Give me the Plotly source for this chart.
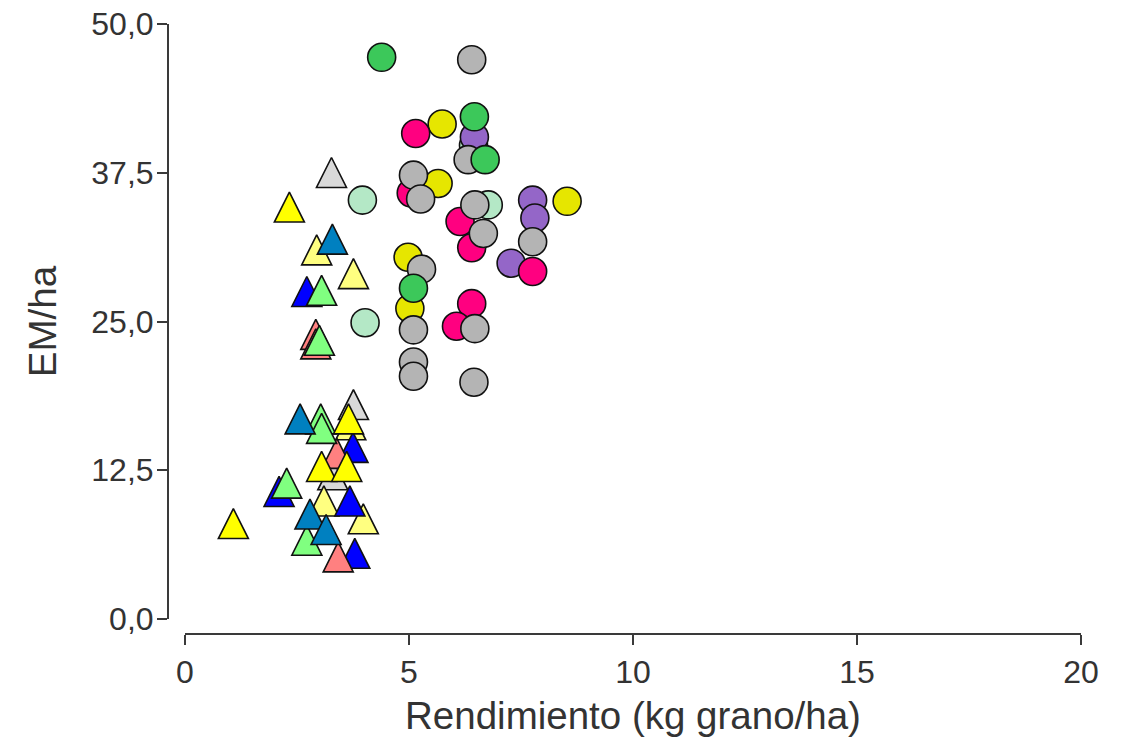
import plotly.graph_objects as go

# ---------------- data ----------------
# Triangles (group A) by colour
tri_yellow_x = [2.33, 3.65, 3.05, 3.61, 1.08]
tri_yellow_y = [34.2, 16.4, 12.4, 12.4, 7.6]
tri_lyellow_x = [2.94, 3.76, 3.70, 3.10, 3.98]
tri_lyellow_y = [30.6, 28.6, 15.9, 9.5, 8.0]
tri_lgray_x = [3.27, 3.76, 3.30]
tri_lgray_y = [37.1, 17.6, 11.7]
tri_steel_x = [3.29, 2.57, 2.79, 3.15]
tri_steel_y = [31.5, 16.4, 8.4, 7.1]
tri_blue_x = [2.72, 3.75, 2.10, 3.68, 3.79]
tri_blue_y = [27.1, 14.0, 10.3, 9.5, 5.1]
tri_lgreen_x = [3.05, 3.00, 3.03, 3.05, 2.27, 2.72]
tri_lgreen_y = [27.2, 23.0, 16.4, 15.6, 11.0, 6.2]
tri_salmon_x = [2.92, 2.92, 3.39, 3.42]
tri_salmon_y = [23.5, 22.7, 13.5, 4.8]

# Circles (group B) by colour
cir_mint_x = [6.44, 3.96, 6.77, 4.02]
cir_mint_y = [39.8, 35.2, 34.8, 24.9]
cir_yellow_x = [5.74, 5.65, 8.53, 4.98, 5.02]
cir_yellow_y = [41.6, 36.6, 35.1, 30.4, 26.1]
cir_purple_x = [6.46, 7.76, 7.81, 7.28]
cir_purple_y = [40.5, 35.2, 33.7, 29.9]
cir_magenta_x = [5.15, 5.05, 6.14, 6.40, 7.76, 6.40, 6.06]
cir_magenta_y = [40.8, 35.8, 33.4, 31.2, 29.2, 26.5, 24.6]
cir_gray_x = [6.40, 6.32, 5.10, 5.26, 6.47, 6.66, 7.76, 5.28, 5.10, 6.47, 5.10, 5.10, 6.45]
cir_gray_y = [47.0, 38.6, 37.3, 35.3, 34.8, 32.4, 31.7, 29.4, 24.3, 24.4, 21.6, 20.4, 19.9]
cir_green_x = [4.39, 6.46, 6.70, 5.10]
cir_green_y = [47.2, 42.2, 38.6, 27.8]

x_ticks = [0, 5, 10, 15, 20]
y_ticks = [0, 12.5, 25, 37.5, 50]

# ---------------- layout constants ----------------
W, H = 1127, 747
ML, MR, MT, MB = 168, 46, 24, 113
X_DOM0 = 0.0186
Y_DOM0 = 0.0246
Y_MAX = 50.0
TRI_SIZE = 30
CIR_SIZE = 28
plot_h = (H - MT - MB) * (1 - Y_DOM0)
px_per_unit = plot_h / Y_MAX
# arrow-up marker has its apex at the data point; shift so the centroid sits on the value
tri_shift = (2.0 / 3.0 * TRI_SIZE) / px_per_unit

AX_COLOR = "#3a3a3a"
TXT_COLOR = "#333333"
FONT = "Liberation Sans, Arial, sans-serif"
TICK_SIZE = 32
TITLE_SIZE = 38.5

fig = go.Figure()

def circles(xs, ys, color):
    fig.add_trace(go.Scatter(
        x=xs, y=ys, mode="markers", showlegend=False,
        marker=dict(symbol="circle", size=CIR_SIZE, color=color,
                    line=dict(color="#111111", width=1.6)),
        cliponaxis=False,
    ))

def triangles(xs, ys, color):
    fig.add_trace(go.Scatter(
        x=xs, y=ys, mode="markers", showlegend=False, yaxis="y2",
        marker=dict(symbol="arrow-up", size=TRI_SIZE, color=color,
                    line=dict(color="#111111", width=1.6)),
        cliponaxis=False,
    ))

circles(cir_mint_x, cir_mint_y, "#b4e8c6")
circles(cir_yellow_x, cir_yellow_y, "#e6e600")
circles(cir_purple_x, cir_purple_y, "#9466c8")
circles(cir_magenta_x, cir_magenta_y, "#ff0080")
circles(cir_gray_x, cir_gray_y, "#b4b4b4")
circles(cir_green_x, cir_green_y, "#3cc85a")

triangles(tri_lgray_x, tri_lgray_y, "#d9d9d9")
triangles(tri_lyellow_x, tri_lyellow_y, "#ffff80")
triangles(tri_blue_x, tri_blue_y, "#0000ff")
triangles(tri_salmon_x, tri_salmon_y, "#ff8080")
triangles(tri_lgreen_x, tri_lgreen_y, "#80ff80")
triangles(tri_steel_x, tri_steel_y, "#0080c0")
triangles(tri_yellow_x, tri_yellow_y, "#ffff00")

fig.update_layout(
    template="none",
    width=W, height=H,
    margin=dict(l=ML, r=MR, t=MT, b=MB, pad=0, autoexpand=False),
    paper_bgcolor="white", plot_bgcolor="white",
    separators=",.",
    font=dict(family=FONT, color=TXT_COLOR),
    xaxis=dict(
        range=[0, 20], domain=[X_DOM0, 1], anchor="free", position=0,
        automargin=False,
        showline=True, linecolor=AX_COLOR, linewidth=2,
        ticks="outside", ticklen=10, tickwidth=2, tickcolor=AX_COLOR,
        tickvals=x_ticks, showgrid=False, zeroline=False,
        tickfont=dict(size=TICK_SIZE, color=TXT_COLOR, family=FONT),
        title=dict(text="Rendimiento (kg grano/ha)", standoff=12,
                   font=dict(size=TITLE_SIZE, color=TXT_COLOR, family=FONT)),
    ),
    yaxis=dict(
        range=[0, Y_MAX], domain=[Y_DOM0, 1], anchor="free", position=0,
        automargin=False,
        showline=True, linecolor=AX_COLOR, linewidth=2,
        ticks="outside", ticklen=10, tickwidth=2, tickcolor=AX_COLOR,
        ticklabelstandoff=-3,
        tickvals=y_ticks, tickformat=".1f", showgrid=False, zeroline=False,
        tickfont=dict(size=TICK_SIZE, color=TXT_COLOR, family=FONT),
        title=dict(text="EM/ha", standoff=22,
                   font=dict(size=TITLE_SIZE, color=TXT_COLOR, family=FONT)),
    ),
    yaxis2=dict(
        range=[-tri_shift, Y_MAX - tri_shift], overlaying="y",
        anchor="free", position=0, visible=False, automargin=False,
    ),
)

fig.write_html("out.html", config={"displayModeBar": False},
               post_script="document.body.style.margin='0';")
